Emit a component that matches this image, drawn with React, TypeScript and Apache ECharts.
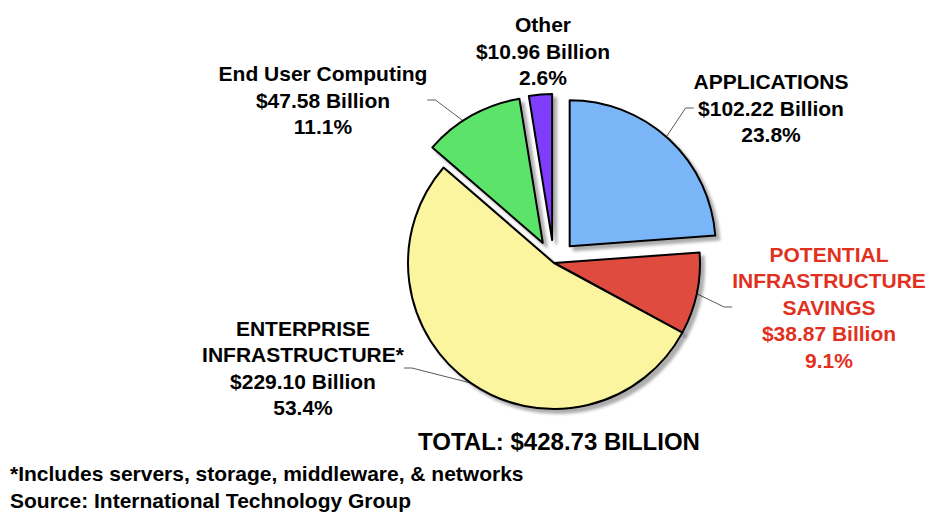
import React, { useEffect, useRef } from "react";
import * as echarts from "echarts";

// Segment names (label headings) and spend in billions of dollars
const categories = [
  "APPLICATIONS",
  "POTENTIAL\nINFRASTRUCTURE\nSAVINGS",
  "ENTERPRISE\nINFRASTRUCTURE*",
  "End User Computing",
  "Other",
];
const valuesBillion = [102.22, 38.87, 229.1, 47.58, 10.96];
// Segments pulled out of the pie
const pulledOut = [true, false, false, true, true];

const footnotes = [
  "*Includes servers, storage, middleware, & networks",
  "Source: International Technology Group",
];

// Styling
const sliceColors = ["#7ab5f8", "#e04b40", "#fbf59f", "#5ce36b", "#7d3cfa"];
const labelColors = ["#000000", "#e2301f", "#000000", "#000000", "#000000"];
const showLeader = [true, true, true, true, false];
// Label block centres in pixels
const labelAnchors: [number, number][] = [
  [771, 108],
  [829, 307],
  [303, 368],
  [323, 100],
  [543, 51],
];

const FONT = "'Liberation Sans', Arial, Helvetica, sans-serif";
const PIE_CENTER = [554, 263];
const PIE_RADIUS = 146;

export default function App() {
  const ref = useRef<HTMLDivElement>(null);

  useEffect(() => {
    if (!ref.current) return;
    const chart = echarts.init(ref.current, undefined, { renderer: "svg" });
    const total = valuesBillion.reduce((a, b) => a + b, 0);

    // Visible slices, with some pulled out through the selection offset
    const sliceData = categories.map((name, i) => ({
      name,
      value: valuesBillion[i],
      selected: pulledOut[i],
      itemStyle: { color: sliceColors[i] },
    }));

    // Same values again, drawn transparent underneath, carrying the labels
    const labelData = categories.map((name, i) => ({
      name,
      value: valuesBillion[i],
      label: { color: labelColors[i] },
      labelLine: { show: showLeader[i] },
    }));

    chart.setOption({
      animation: false,
      backgroundColor: "#ffffff",
      series: [
        {
          type: "pie",
          z: 2,
          silent: true,
          center: PIE_CENTER,
          radius: PIE_RADIUS,
          startAngle: 90,
          clockwise: true,
          percentPrecision: 1,
          avoidLabelOverlap: false,
          itemStyle: { color: "rgba(0,0,0,0)", borderWidth: 0 },
          emphasis: { disabled: true },
          label: {
            show: true,
            position: "outside",
            fontFamily: FONT,
            fontWeight: "bold",
            fontSize: 21,
            lineHeight: 26.5,
            align: "center",
            formatter: (p: any) =>
              `${p.name}\n$${Number(p.value).toFixed(2)} Billion\n${Number(
                p.percent
              ).toFixed(1)}%`,
          },
          labelLine: {
            show: true,
            length: 14,
            length2: 8,
            lineStyle: { color: "#5a5a5a", width: 1 },
          },
          labelLayout: (params: any) => {
            const a = labelAnchors[params.dataIndex];
            return {
              x: a[0],
              y: a[1],
              align: "center",
              verticalAlign: "middle",
            };
          },
          data: labelData,
        },
        {
          type: "pie",
          z: 3,
          silent: true,
          center: PIE_CENTER,
          radius: PIE_RADIUS,
          startAngle: 90,
          clockwise: true,
          selectedMode: "multiple",
          selectedOffset: 23,
          emphasis: { disabled: true },
          label: { show: false },
          labelLine: { show: false },
          itemStyle: {
            borderColor: "#000000",
            borderWidth: 2,
            shadowColor: "rgba(0,0,0,0.32)",
            shadowBlur: 3,
            shadowOffsetX: 4,
            shadowOffsetY: 4,
          },
          select: {
            itemStyle: {
              borderColor: "#000000",
              borderWidth: 2,
            },
          },
          data: sliceData,
        },
      ],
      graphic: [
        {
          type: "text",
          x: 559,
          y: 441,
          style: {
            text: `TOTAL: $${total.toFixed(2)} BILLION`,
            font: `bold 24px ${FONT}`,
            fill: "#000000",
            textAlign: "center",
            textVerticalAlign: "middle",
          },
        },
        ...footnotes.map((t, i) => ({
          type: "text",
          x: 10,
          y: 473 + i * 27,
          style: {
            text: t,
            font: `bold 21px ${FONT}`,
            fill: "#000000",
            textAlign: "left",
            textVerticalAlign: "middle",
          },
        })),
      ],
    });

    return () => chart.dispose();
  }, []);

  return (
    <div
      ref={ref}
      style={{ position: "fixed", left: 0, top: 0, width: 929, height: 512 }}
    />
  );
}
